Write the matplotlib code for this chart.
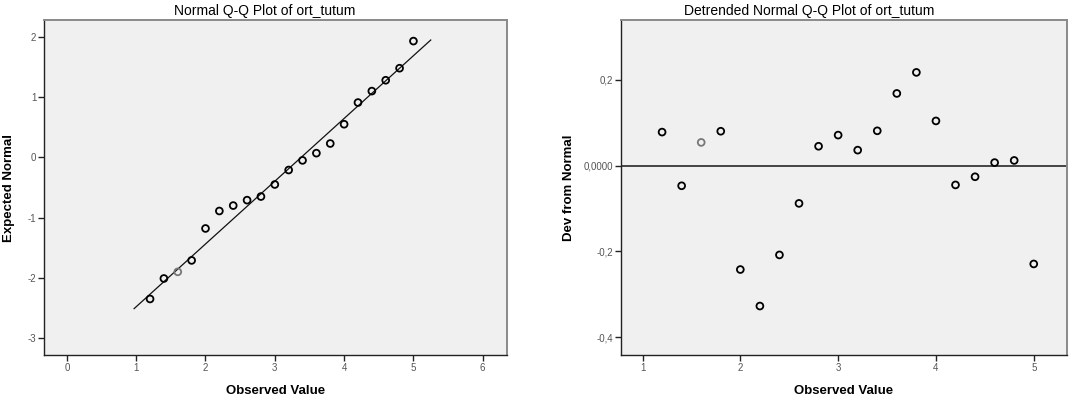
import numpy as np
import matplotlib
matplotlib.use('Agg')
from matplotlib import pyplot as plt
from matplotlib.ticker import FixedLocator, FixedFormatter

plt.rcParams['font.family'] = ['Liberation Sans', 'DejaVu Sans']
plt.rcParams['axes.unicode_minus'] = False

# Observed values (same for both panels)
observed = [1.2, 1.4, 1.6, 1.8, 2.0, 2.2, 2.4, 2.6, 2.8, 3.0, 3.2,
            3.4, 3.6, 3.8, 4.0, 4.2, 4.4, 4.6, 4.8, 5.0]

# Expected normal values (left panel)
expected = [-2.35, -2.01, -1.90, -1.71, -1.18, -0.89, -0.80, -0.71, -0.65, -0.45, -0.21,
            -0.05, 0.07, 0.23, 0.55, 0.91, 1.10, 1.28, 1.48, 1.93]

# Deviation from normal (right panel)
deviation = [0.078, -0.047, 0.054, 0.080, -0.242, -0.327, -0.208, -0.088, 0.045, 0.071, 0.036,
             0.081, 0.168, 0.217, 0.104, -0.045, -0.026, 0.007, 0.012, -0.229]

# Reference line (normal fit)
line_x = [0.97, 5.25]
fit_mean = 3.38
fit_sd = 0.96

left_xticks = [0, 1, 2, 3, 4, 5, 6]
left_yticks = [-3, -2, -1, 0, 1, 2]
right_xticks = [1, 2, 3, 4, 5]
right_yticks = [-0.4, -0.2, 0.0, 0.2]
right_ylabels = ['-0,4', '-0,2', '0,0000', '0,2']

BG = '#f0f0f0'
TICKCOL = '#555555'


def style_axes(ax):
    ax.set_facecolor(BG)
    for side in ('top', 'right'):
        ax.spines[side].set_color('#8a8a8a')
        ax.spines[side].set_linewidth(1.4)
    for side in ('left', 'bottom'):
        ax.spines[side].set_color('#222222')
        ax.spines[side].set_linewidth(1.0)
    ax.tick_params(direction='out', length=4, width=1, color='#222222',
                   labelsize=7, labelcolor=TICKCOL, pad=1.5)


def point_colors(n):
    cols = ['black'] * n
    cols[2] = '#777777'  # lighter single case at 1.6
    return cols


fig = plt.figure(figsize=(10.74, 4.0), dpi=100)

# ---- Left: Normal Q-Q plot
ax1 = fig.add_axes([44 / 1074, 1 - 355 / 400, 463 / 1074, 335 / 400])
style_axes(ax1)
lx = np.array(line_x)
ax1.plot(lx, (lx - fit_mean) / fit_sd, color='#111111', lw=0.9, zorder=2)
ax1.scatter(observed, expected, s=24, facecolors='none',
            edgecolors=point_colors(len(observed)), linewidths=1.3, zorder=3)
ax1.set_xlim(-0.33, 6.35)
ax1.set_ylim(-3.28, 2.28)
ax1.set_xticks(left_xticks)
ax1.set_yticks(left_yticks)
ax1.set_xlabel('Observed Value', fontsize=9.5, fontweight='bold')
ax1.set_ylabel('Expected Normal', fontsize=9.5, fontweight='bold')
ax1.xaxis.set_label_coords(0.5, -0.09)
ax1.yaxis.set_label_coords(-0.063, 0.5)
fig.text(265 / 1074, 1 - 11 / 400, 'Normal Q-Q Plot of ort_tutum',
         ha='center', va='center', fontsize=10)

# ---- Right: Detrended normal Q-Q plot
ax2 = fig.add_axes([621 / 1074, 1 - 355 / 400, 446 / 1074, 335 / 400])
style_axes(ax2)
ax2.axhline(0, color='#444444', lw=1.4, zorder=2)
ax2.scatter(observed, deviation, s=24, facecolors='none',
            edgecolors=point_colors(len(observed)), linewidths=1.3, zorder=3)
ax2.set_xlim(0.78, 5.34)
ax2.set_ylim(-0.441, 0.339)
ax2.xaxis.set_major_locator(FixedLocator(right_xticks))
ax2.yaxis.set_major_locator(FixedLocator(right_yticks))
ax2.yaxis.set_major_formatter(FixedFormatter(right_ylabels))
ax2.set_xlabel('Observed Value', fontsize=9.5, fontweight='bold')
ax2.set_ylabel('Dev from Normal', fontsize=9.5, fontweight='bold')
ax2.xaxis.set_label_coords(0.5, -0.09)
ax2.yaxis.set_label_coords(-0.103, 0.5)
fig.text(809 / 1074, 1 - 11 / 400, 'Detrended Normal Q-Q Plot of ort_tutum',
         ha='center', va='center', fontsize=10)

fig.savefig('out.png', dpi=100)
